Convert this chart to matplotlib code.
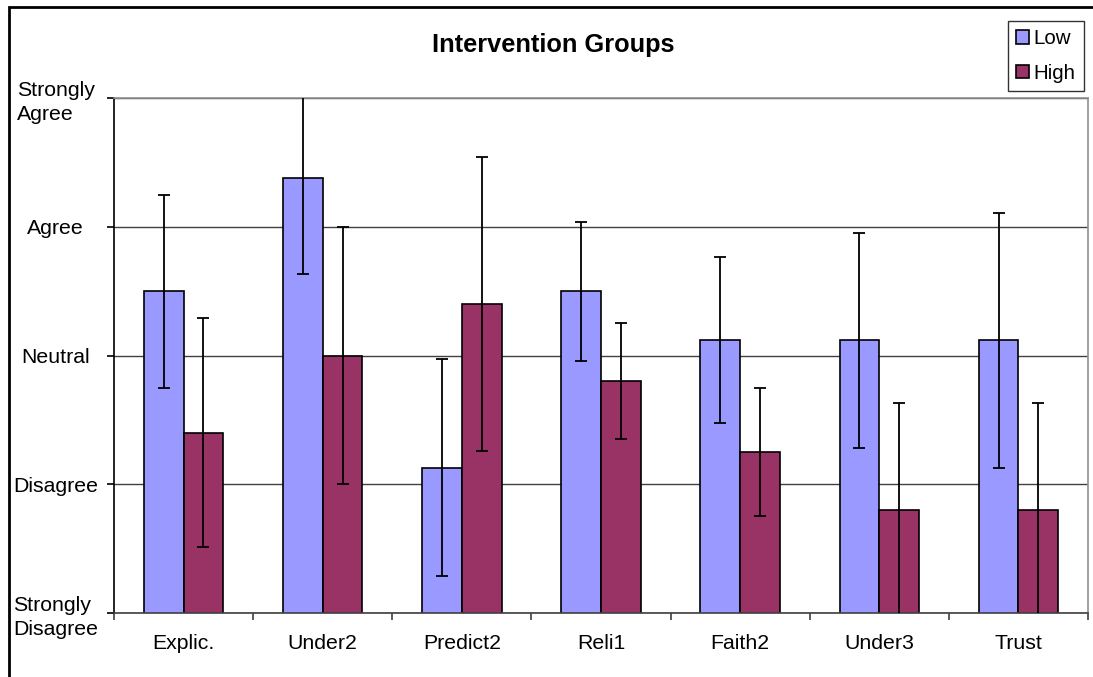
import numpy as np
import matplotlib.pyplot as plt
from matplotlib.patches import Rectangle

plt.rcParams["font.family"] = ["Liberation Sans", "DejaVu Sans"]

# ---------------------------------------------------------
# Data (1 = Strongly Disagree ... 5 = Strongly Agree)
# ---------------------------------------------------------
categories = ["Explic.", "Under2", "Predict2", "Reli1", "Faith2", "Under3", "Trust"]
low_mean = [3.50, 4.38, 2.13, 3.50, 3.12, 3.12, 3.12]
low_err = [0.75, 0.75, 0.84, 0.54, 0.645, 0.835, 0.99]
high_mean = [2.40, 3.00, 3.40, 2.80, 2.25, 1.80, 1.80]
high_err = [0.89, 1.00, 1.14, 0.45, 0.50, 0.83, 0.83]
scale_ticks = [1, 2, 3, 4, 5]
scale_labels = ["Strongly\nDisagree", "Disagree", "Neutral", "Agree", "Strongly\nAgree"]

LOW_COLOR = "#9999FF"
HIGH_COLOR = "#993366"

fig = plt.figure(figsize=(10.93, 6.77), dpi=100)
ax = fig.add_axes([114 / 1093, 1 - 613 / 677, (1088 - 114) / 1093, (613 - 98) / 677])

x = np.arange(len(categories))
w = 0.285

ax.bar(x - w / 2, low_mean, w, color=LOW_COLOR, edgecolor="black", linewidth=1.2,
       label="Low", zorder=2)
ax.bar(x + w / 2, high_mean, w, color=HIGH_COLOR, edgecolor="black", linewidth=1.2,
       label="High", zorder=2)
ax.errorbar(x - w / 2, low_mean, yerr=low_err, fmt="none", ecolor="black",
            elinewidth=1.3, capsize=4.5, capthick=1.3, zorder=3)
ax.errorbar(x + w / 2, high_mean, yerr=high_err, fmt="none", ecolor="black",
            elinewidth=1.3, capsize=4.5, capthick=1.3, zorder=3)

ax.set_xlim(-0.5, len(categories) - 0.5)
ax.set_ylim(1, 5)

# gridlines
ax.set_yticks(scale_ticks)
ax.set_yticklabels(scale_labels, fontsize=15.3, linespacing=1.35)
ax.yaxis.grid(True, color="#404040", linewidth=1.0, zorder=0)
ax.set_axisbelow(True)
ax.tick_params(axis="y", length=5, width=1.2, pad=37)
for lbl in ax.get_yticklabels():
    lbl.set_horizontalalignment("center")
    lbl.set_multialignment("left")

# x: ticks between categories, labels at centers
ax.set_xticks(np.arange(len(categories) + 1) - 0.5)
ax.set_xticklabels([])
ax.set_xticks(x, minor=True)
ax.set_xticklabels(categories, minor=True, fontsize=15.3)
ax.tick_params(axis="x", which="major", length=5, width=1.2, color="#404040")
ax.tick_params(axis="x", which="minor", length=0, pad=15)

ax.spines["left"].set_color("black")
ax.spines["left"].set_linewidth(1.2)
ax.spines["bottom"].set_color("#404040")
ax.spines["bottom"].set_linewidth(1.2)
ax.spines["top"].set_color("#909090")
ax.spines["top"].set_linewidth(1.2)
ax.spines["right"].set_color("#909090")
ax.spines["right"].set_linewidth(1.2)

fig.text(553 / 1093, 1 - 45 / 677, "Intervention Groups", fontsize=18.3,
         fontweight="bold", ha="center", va="center")

leg = ax.legend(loc="upper right", bbox_to_anchor=(1084 / 1093, 1 - 21 / 677),
                bbox_transform=fig.transFigure, fontsize=14.8, frameon=True,
                fancybox=False, handlelength=0.6, handleheight=0.6,
                handletextpad=0.25, borderpad=0.4, labelspacing=0.75,
                borderaxespad=0)
leg.get_frame().set_edgecolor("black")
leg.get_frame().set_linewidth(1.0)

# outer chart frame (left and top edges visible)
fig.patches.append(Rectangle((9 / 1093, -0.05), 1.1, 1 - 6.5 / 677 + 0.05,
                             transform=fig.transFigure, fill=False,
                             edgecolor="black", linewidth=2))

plt.savefig("out.png", dpi=100)
